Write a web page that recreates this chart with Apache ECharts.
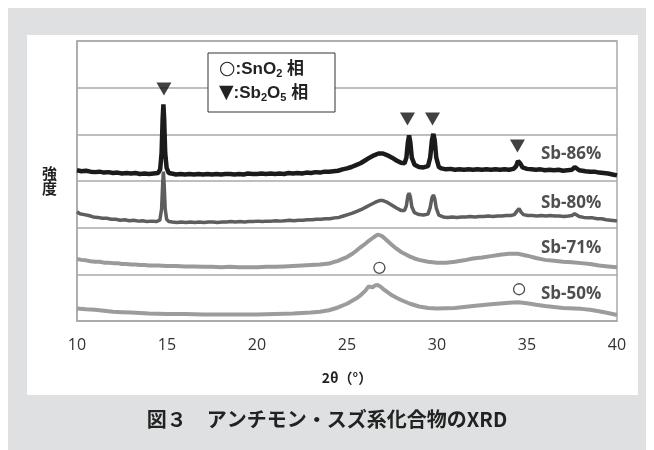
<!DOCTYPE html>
<html><head><meta charset="utf-8">
<script src="https://cdn.jsdelivr.net/npm/echarts@6/dist/echarts.min.js"></script>
<style>html,body{margin:0;padding:0;background:#fff}#c{width:654px;height:450px}</style>
</head><body><div id="c"></div>
<script>
const xTicks = [10, 15, 20, 25, 30, 35, 40];
const sampleNames = ['Sb-86%', 'Sb-80%', 'Sb-71%', 'Sb-50%'];
const sampleLabelAt = [[37.45, 3.58], [37.45, 2.53], [37.45, 1.56], [37.45, 0.58]];
const sb86 = [[10,3.23],[10.25,3.21],[10.5,3.22],[10.75,3.2],[11,3.19],[11.25,3.2],[11.5,3.18],[11.75,3.19],[12,3.17],[12.25,3.18],[12.5,3.16],[12.75,3.17],[13,3.16],[13.25,3.17],[13.5,3.15],[13.75,3.16],[14,3.15],[14.25,3.16],[14.5,3.17],[14.62,3.25],[14.7,3.6],[14.76,4.35],[14.8,4.64],[14.84,4.35],[14.9,3.6],[14.98,3.28],[15.1,3.17],[15.25,3.16],[15.5,3.14],[15.75,3.15],[16,3.14],[16.25,3.15],[16.5,3.14],[16.75,3.15],[17,3.14],[17.25,3.15],[17.5,3.14],[17.75,3.15],[18,3.14],[18.25,3.15],[18.5,3.15],[18.75,3.14],[19,3.15],[19.25,3.14],[19.5,3.16],[19.75,3.15],[20,3.15],[20.25,3.16],[20.5,3.15],[20.75,3.16],[21,3.15],[21.25,3.16],[21.5,3.15],[21.75,3.17],[22,3.16],[22.25,3.17],[22.5,3.16],[22.75,3.18],[23,3.17],[23.25,3.19],[23.5,3.18],[23.75,3.2],[24,3.2],[24.25,3.21],[24.5,3.22],[24.75,3.25],[25,3.27],[25.25,3.3],[25.5,3.34],[25.75,3.38],[26,3.44],[26.25,3.5],[26.5,3.55],[26.75,3.59],[27,3.59],[27.25,3.55],[27.5,3.5],[27.75,3.44],[28,3.39],[28.2,3.38],[28.3,3.5],[28.38,3.82],[28.45,3.98],[28.52,3.82],[28.6,3.5],[28.75,3.35],[29,3.3],[29.25,3.29],[29.5,3.32],[29.62,3.5],[29.72,3.88],[29.8,4.01],[29.87,3.88],[29.96,3.5],[30.1,3.3],[30.25,3.27],[30.5,3.25],[30.75,3.26],[31,3.24],[31.25,3.25],[31.5,3.24],[31.75,3.25],[32,3.24],[32.25,3.25],[32.5,3.24],[32.75,3.25],[33,3.24],[33.25,3.25],[33.5,3.24],[33.75,3.25],[34,3.24],[34.25,3.26],[34.4,3.32],[34.5,3.43],[34.56,3.46],[34.64,3.37],[34.75,3.29],[35,3.26],[35.25,3.25],[35.5,3.24],[35.75,3.25],[36,3.23],[36.25,3.24],[36.5,3.23],[36.75,3.24],[37,3.22],[37.25,3.23],[37.5,3.24],[37.65,3.3],[37.75,3.3],[37.9,3.23],[38.25,3.21],[38.5,3.2],[38.75,3.2],[39,3.18],[39.25,3.17],[39.5,3.16],[39.75,3.14],[40,3.12]];
const sb80 = [[10,2.34],[10.15,2.3],[10.4,2.28],[10.65,2.26],[10.9,2.23],[11.15,2.22],[11.4,2.2],[11.65,2.2],[11.9,2.18],[12.15,2.18],[12.4,2.16],[12.65,2.17],[12.9,2.15],[13.15,2.16],[13.4,2.14],[13.65,2.15],[13.9,2.13],[14.15,2.14],[14.4,2.13],[14.6,2.16],[14.7,2.4],[14.76,2.95],[14.8,3.2],[14.84,2.95],[14.9,2.4],[14.98,2.18],[15.1,2.13],[15.3,2.12],[15.55,2.11],[15.8,2.12],[16.05,2.11],[16.3,2.12],[16.55,2.11],[16.8,2.12],[17.05,2.11],[17.3,2.12],[17.55,2.12],[17.8,2.11],[18.05,2.12],[18.3,2.12],[18.55,2.13],[18.8,2.12],[19.05,2.13],[19.3,2.12],[19.55,2.13],[19.8,2.13],[20.05,2.14],[20.3,2.13],[20.55,2.14],[20.8,2.14],[21.05,2.15],[21.3,2.14],[21.55,2.15],[21.8,2.16],[22.05,2.15],[22.3,2.16],[22.55,2.16],[22.8,2.17],[23.05,2.17],[23.3,2.18],[23.55,2.18],[23.8,2.19],[24.05,2.19],[24.3,2.21],[24.55,2.22],[24.8,2.25],[25.05,2.28],[25.3,2.31],[25.55,2.35],[25.8,2.39],[26.05,2.44],[26.3,2.49],[26.55,2.54],[26.8,2.58],[27,2.58],[27.25,2.54],[27.5,2.48],[27.75,2.42],[28,2.37],[28.2,2.37],[28.3,2.47],[28.38,2.68],[28.45,2.74],[28.52,2.66],[28.6,2.45],[28.75,2.32],[29,2.28],[29.25,2.27],[29.5,2.29],[29.62,2.43],[29.72,2.64],[29.8,2.7],[29.87,2.63],[29.96,2.42],[30.1,2.27],[30.35,2.23],[30.6,2.22],[30.85,2.23],[31.1,2.22],[31.35,2.23],[31.6,2.23],[31.85,2.24],[32.1,2.23],[32.35,2.24],[32.6,2.24],[32.85,2.25],[33.1,2.24],[33.35,2.25],[33.6,2.25],[33.85,2.26],[34.1,2.26],[34.3,2.28],[34.45,2.36],[34.56,2.41],[34.66,2.34],[34.8,2.28],[35.05,2.26],[35.3,2.26],[35.55,2.25],[35.8,2.26],[36.05,2.25],[36.3,2.26],[36.55,2.25],[36.8,2.25],[37.05,2.24],[37.3,2.25],[37.5,2.26],[37.65,2.3],[37.75,2.3],[37.9,2.24],[38.15,2.22],[38.4,2.21],[38.65,2.21],[38.9,2.19],[39.15,2.19],[39.4,2.17],[39.65,2.16],[39.9,2.15],[40,2.14]];
const sb71 = [[10,1.33],[10.25,1.31],[10.5,1.3],[10.75,1.28],[11,1.27],[11.25,1.27],[11.5,1.25],[11.75,1.25],[12,1.24],[12.25,1.24],[12.5,1.22],[12.75,1.22],[13,1.21],[13.25,1.21],[13.5,1.2],[13.75,1.2],[14,1.19],[14.5,1.19],[15,1.18],[15.5,1.18],[16,1.17],[16.5,1.17],[17,1.16],[17.5,1.16],[18,1.15],[18.5,1.16],[19,1.15],[19.5,1.15],[20,1.15],[20.5,1.16],[21,1.16],[21.5,1.17],[22,1.18],[22.5,1.19],[23,1.2],[23.5,1.21],[24,1.23],[24.25,1.26],[24.5,1.29],[24.75,1.33],[25,1.37],[25.25,1.43],[25.5,1.5],[25.75,1.58],[26,1.65],[26.25,1.73],[26.5,1.8],[26.7,1.85],[26.9,1.83],[27.1,1.77],[27.3,1.7],[27.5,1.63],[27.75,1.55],[28,1.48],[28.25,1.43],[28.5,1.38],[28.75,1.34],[29,1.31],[29.5,1.27],[30,1.25],[30.5,1.25],[31,1.27],[31.5,1.3],[32,1.34],[32.5,1.36],[33,1.39],[33.5,1.42],[34,1.44],[34.5,1.44],[35,1.4],[35.5,1.35],[36,1.31],[36.5,1.29],[37,1.27],[37.5,1.26],[38,1.24],[38.5,1.22],[39,1.19],[39.5,1.17],[40,1.15]];
const sb50 = [[10,0.27],[10.5,0.25],[11,0.24],[11.5,0.22],[12,0.2],[12.5,0.19],[13,0.18],[14,0.16],[15,0.15],[16,0.15],[17,0.14],[18,0.14],[19,0.14],[20,0.14],[21,0.15],[22,0.16],[23,0.18],[23.5,0.2],[24,0.23],[24.5,0.29],[25,0.37],[25.5,0.48],[25.75,0.55],[26,0.64],[26.2,0.74],[26.3,0.78],[26.42,0.72],[26.55,0.76],[26.7,0.77],[26.85,0.74],[27,0.69],[27.25,0.62],[27.5,0.55],[27.75,0.5],[28,0.45],[28.5,0.37],[29,0.31],[29.5,0.28],[30,0.27],[31,0.28],[32,0.32],[33,0.36],[34,0.39],[34.5,0.4],[35,0.38],[35.5,0.35],[36,0.32],[37,0.28],[38,0.26],[38.5,0.24],[39,0.21],[39.5,0.17],[40,0.13]];
const sb2o5Marks = [[14.83,4.97],[28.36,4.33],[29.75,4.33],[34.47,3.75]];
const sno2Marks = [[26.8,1.14],[34.56,0.68]];
const sampleData = [sb86, sb80, sb71, sb50];
const lineColors = ['#1b1b1b', '#5e5e5e', '#9a9a9a', '#9c9c9c'];
const lineWidths = [4.5, 3.5, 4, 4];

const chart = echarts.init(document.getElementById('c'));
const series = sampleData.map((d, i) => ({
  type: 'line', name: sampleNames[i], data: d, showSymbol: false, symbol: 'none',
  lineStyle: { color: lineColors[i], width: lineWidths[i] }, z: 3
}));
series.push({
  type: 'scatter', data: sb2o5Marks, symbol: 'triangle', symbolRotate: 180,
  symbolSize: [15, 13], itemStyle: { color: '#111' }, z: 5
});
series.push({
  type: 'scatter', data: sno2Marks, symbol: 'circle', symbolSize: 11,
  itemStyle: { color: '#fff', borderColor: '#222', borderWidth: 1.3 }, z: 5
});
series.push({
  type: 'scatter', symbolSize: 0,
  data: sampleLabelAt.map((p, i) => ({ value: p, name: sampleNames[i] })),
  label: { show: true, position: 'inside', formatter: p => p.name,
    fontFamily: 'Open Sans', fontWeight: 'bold', fontSize: 17, color: '#222' }, z: 6
});

chart.setOption({
  animation: false,
  backgroundColor: '#fff',
  grid: { left: 77, right: 37, top: 41, bottom: 129, show: true, borderColor: '#a9a9a9', borderWidth: 1.5 },
  xAxis: {
    type: 'value', min: 10, max: 40, interval: 5,
    axisLine: { show: true, lineStyle: { color: '#a9a9a9', width: 1.5 } },
    axisTick: { show: false }, splitLine: { show: false },
    axisLabel: { margin: 16, fontSize: 16, color: '#333', fontFamily: 'Open Sans',
      customValues: xTicks },
    name: '2θ（°）', nameLocation: 'middle', nameGap: 50,
    nameTextStyle: { fontSize: 14, fontWeight: 'bold', color: '#222', fontFamily: 'Noto Sans CJK JP' }
  },
  yAxis: {
    type: 'value', min: 0, max: 6, interval: 1,
    axisLine: { show: true, lineStyle: { color: '#a9a9a9', width: 1.5 } },
    axisTick: { show: false }, axisLabel: { show: false },
    splitLine: { show: true, lineStyle: { color: '#a9a9a9', width: 1.5 } },
    name: '強\n度', nameLocation: 'middle', nameGap: 20, nameRotate: 0,
    nameTextStyle: { fontSize: 15, fontWeight: 'bold', color: '#222', fontFamily: 'Noto Sans CJK JP', lineHeight: 15 }
  },
  graphic: [
    { type: 'rect', z: -100, silent: true, shape: { x: 8, y: 8, width: 638, height: 442 }, style: { fill: '#dfe0e1' } },
    { type: 'rect', z: -99, silent: true, shape: { x: 27, y: 35, width: 611, height: 360 }, style: { fill: '#ffffff' } },
    { type: 'rect', z: 10, shape: { x: 208, y: 53, width: 127, height: 59 }, style: { fill: '#fff', stroke: '#333', lineWidth: 1 } },
    { type: 'text', z: 11, left: 219, top: 59, style: {
      text: '{g|○}{a|:SnO}{s|2}{a| 相}\n{g|▼}{a|:Sb}{s|2}{a|O}{s|5}{a| 相}',
      rich: {
        g: { fontSize: 19, fontFamily: 'DejaVu Sans', fill: '#222', lineHeight: 24 },
        a: { fontSize: 17, fontWeight: 'bold', fontFamily: 'Liberation Sans, Noto Sans CJK JP', fill: '#222', lineHeight: 24 },
        s: { fontSize: 11, fontWeight: 'bold', fontFamily: 'Liberation Sans', fill: '#222', padding: [9, 0, 0, 0], lineHeight: 24 }
      } } },
    { type: 'text', left: 'center', top: 409, style: {
      text: '図３　アンチモン・スズ系化合物のXRD', fontSize: 20, fontWeight: 'bold',
      fontFamily: 'Noto Sans CJK JP', fill: '#222' } }
  ],
  series: series
});
</script></body></html>
